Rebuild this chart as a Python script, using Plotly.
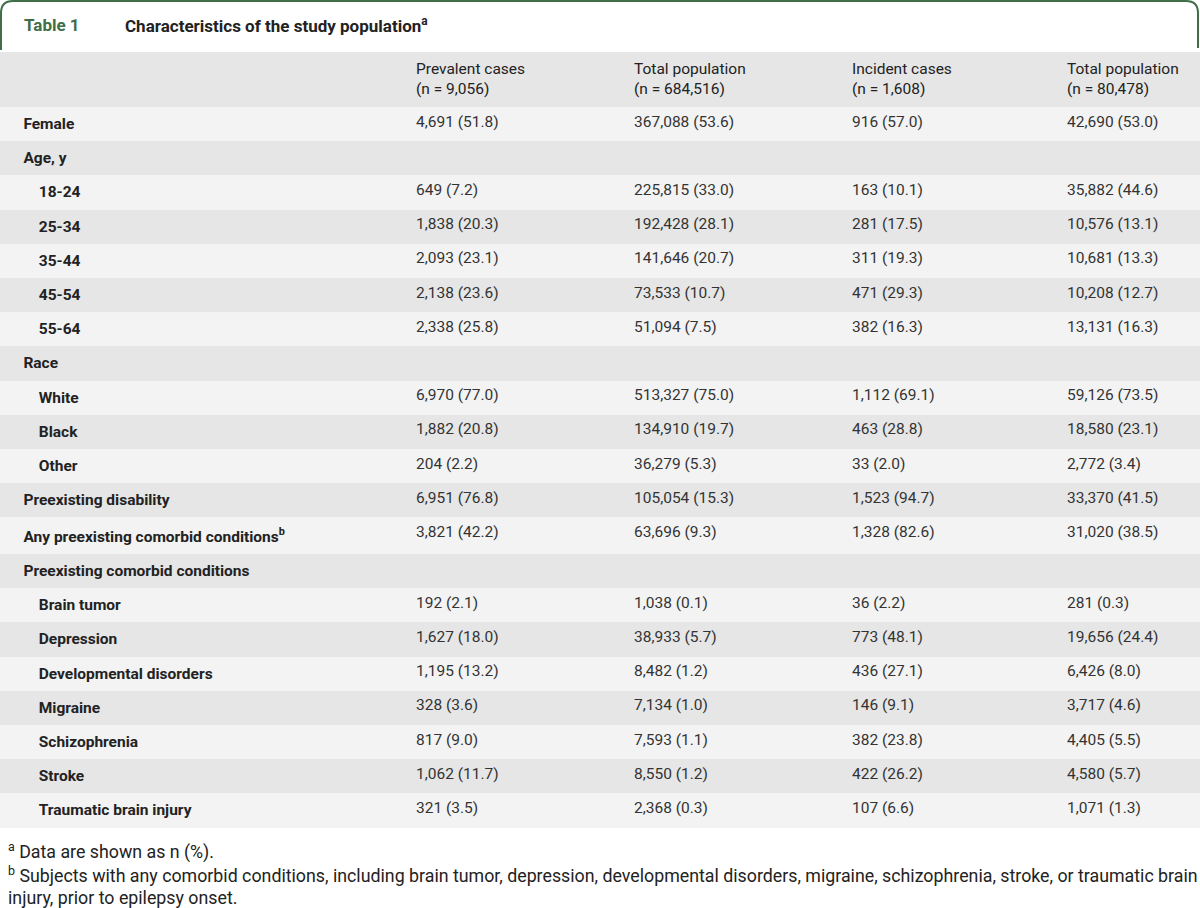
import plotly.graph_objects as go

# ---- data ----
row_labels = ["Female", "Age, y", "18-24", "25-34", "35-44", "45-54", "55-64",
              "Race", "White", "Black", "Other", "Preexisting disability",
              "Any preexisting comorbid conditions<sup>b</sup>",
              "Preexisting comorbid conditions", "Brain tumor", "Depression",
              "Developmental disorders", "Migraine", "Schizophrenia", "Stroke",
              "Traumatic brain injury"]
row_indent = [0, 0, 1, 1, 1, 1, 1, 0, 1, 1, 1, 0, 0, 0, 1, 1, 1, 1, 1, 1, 1]

col_headers = ["", "Prevalent cases<br>(n = 9,056)", "Total population<br>(n = 684,516)",
               "Incident cases<br>(n = 1,608)", "Total population<br>(n = 80,478)"]

prevalent_cases = ["4,691 (51.8)", "", "649 (7.2)", "1,838 (20.3)", "2,093 (23.1)",
                   "2,138 (23.6)", "2,338 (25.8)", "", "6,970 (77.0)", "1,882 (20.8)",
                   "204 (2.2)", "6,951 (76.8)", "3,821 (42.2)", "", "192 (2.1)",
                   "1,627 (18.0)", "1,195 (13.2)", "328 (3.6)", "817 (9.0)",
                   "1,062 (11.7)", "321 (3.5)"]
total_pop_prev = ["367,088 (53.6)", "", "225,815 (33.0)", "192,428 (28.1)",
                  "141,646 (20.7)", "73,533 (10.7)", "51,094 (7.5)", "",
                  "513,327 (75.0)", "134,910 (19.7)", "36,279 (5.3)",
                  "105,054 (15.3)", "63,696 (9.3)", "", "1,038 (0.1)",
                  "38,933 (5.7)", "8,482 (1.2)", "7,134 (1.0)", "7,593 (1.1)",
                  "8,550 (1.2)", "2,368 (0.3)"]
incident_cases = ["916 (57.0)", "", "163 (10.1)", "281 (17.5)", "311 (19.3)",
                  "471 (29.3)", "382 (16.3)", "", "1,112 (69.1)", "463 (28.8)",
                  "33 (2.0)", "1,523 (94.7)", "1,328 (82.6)", "", "36 (2.2)",
                  "773 (48.1)", "436 (27.1)", "146 (9.1)", "382 (23.8)",
                  "422 (26.2)", "107 (6.6)"]
total_pop_inc = ["42,690 (53.0)", "", "35,882 (44.6)", "10,576 (13.1)",
                 "10,681 (13.3)", "10,208 (12.7)", "13,131 (16.3)", "",
                 "59,126 (73.5)", "18,580 (23.1)", "2,772 (3.4)", "33,370 (41.5)",
                 "31,020 (38.5)", "", "281 (0.3)", "19,656 (24.4)", "6,426 (8.0)",
                 "3,717 (4.6)", "4,405 (5.5)", "4,580 (5.7)", "1,071 (1.3)"]

title_label = "Table 1"
title_text = "Characteristics of the study population<sup>a</sup>"
footnotes = ["<sup>a</sup> Data are shown as n (%).",
             "<sup>b</sup> Subjects with any comorbid conditions, including brain tumor, depression, developmental disorders, migraine, schizophrenia, stroke, or traumatic brain",
             "injury, prior to epilepsy onset."]

# ---- build ----
W, H = 1200, 908
GREEN = "#3f6e48"
LIGHT, DARK = "#f3f3f3", "#e6e6e6"
NB = "\u00a0"

labels = [(NB * 4 if ind == 0 else NB * 8) + "<b>" + lab + "</b>"
          for lab, ind in zip(row_labels, row_indent)]
n = len(labels)
row_fill = [LIGHT if i % 2 == 0 else DARK for i in range(n)]

table_top = 52
fig = go.Figure()
fig.add_trace(go.Table(
    domain=dict(x=[0, 1], y=[0, 1 - table_top / H]),
    columnwidth=[408, 218, 218, 215, 141],
    header=dict(
        values=col_headers,
        fill_color=DARK,
        line=dict(color=DARK, width=0),
        align="left",
        height=55,
        font=dict(family="Roboto", size=15.5, color="#222222"),
    ),
    cells=dict(
        values=[labels, prevalent_cases, total_pop_prev, incident_cases, total_pop_inc],
        fill_color=[row_fill] * 5,
        line=dict(color=[row_fill] * 5, width=0),
        align="left",
        height=34.2,
        font=dict(family="Roboto", size=15.5,
                  color=["#222222", "#333333", "#333333", "#333333", "#333333"]),
    ),
))

# green rounded frame at the top
r = 12
path = (f"M 1,50 L 1,{1 + r} Q 1,1 {1 + r},1 L {W - 2 - r},1 Q {W - 2},1 {W - 2},{1 + r} L {W - 2},48")
fig.add_shape(type="path", path=path, xref="x", yref="y",
              line=dict(color=GREEN, width=2))

fig.add_annotation(x=22, y=25, xref="x", yref="y", text="<b>" + title_label + "</b>",
                   showarrow=False, xanchor="left", yanchor="middle",
                   font=dict(family="Roboto", size=17, color=GREEN))
fig.add_annotation(x=123, y=25, xref="x", yref="y", text="<b>" + title_text + "</b>",
                   showarrow=False, xanchor="left", yanchor="middle",
                   font=dict(family="Roboto", size=17, color="#222222"))

for txt, yy in zip(footnotes, [851, 874, 897]):
    fig.add_annotation(x=6, y=yy, xref="x", yref="y", text=txt,
                       showarrow=False, xanchor="left", yanchor="middle",
                       font=dict(family="Roboto", size=17.8, color="#222222"))

fig.update_layout(
    width=W, height=H,
    margin=dict(l=0, r=0, t=0, b=0),
    paper_bgcolor="white", plot_bgcolor="rgba(0,0,0,0)",
    xaxis=dict(range=[0, W], visible=False, fixedrange=True),
    yaxis=dict(range=[H, 0], visible=False, fixedrange=True),
    showlegend=False,
)
fig.write_html("out.html", config={"displayModeBar": False},
               post_script="document.body.style.margin='0';document.body.style.padding='0';")
